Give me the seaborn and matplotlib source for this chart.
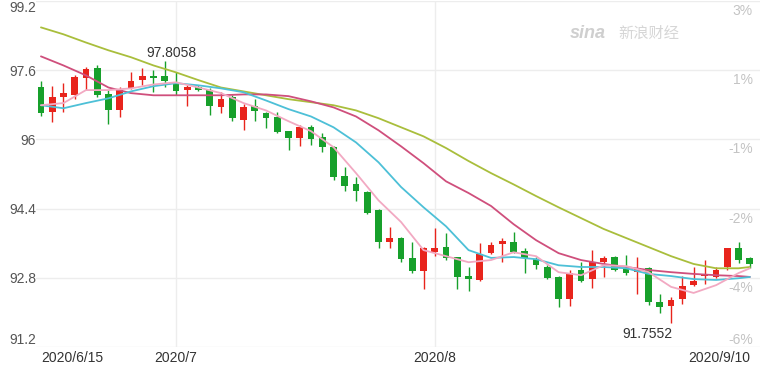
import numpy as np
import pandas as pd
import matplotlib
matplotlib.use("Agg")
import matplotlib.pyplot as plt
import matplotlib.transforms as mtransforms
import seaborn as sns

# ---------------- data ----------------
dates = pd.bdate_range("2020-06-15", "2020-09-10")

opens = [97.20, 96.63, 96.97, 97.02, 97.41, 97.64, 97.04, 96.67, 97.18, 97.37,
         97.46, 97.46, 97.30, 97.14, 97.20, 97.14, 96.74, 96.97, 96.44, 96.77,
         96.60, 96.51, 96.19, 96.03, 96.28, 96.05, 95.82, 95.15, 94.96, 94.78,
         94.36, 93.62, 93.72, 93.26, 92.96, 93.39, 93.51, 93.28, 92.84, 92.75,
         93.37, 93.58, 93.62, 93.42, 93.23, 93.05, 92.82, 92.31, 92.98, 92.77,
         93.16, 93.28, 93.00, 92.93, 93.02, 92.24, 92.15, 92.31, 92.63, 92.84,
         92.82, 93.05, 93.49, 93.26]
highs = [97.34, 97.23, 97.30, 97.50, 97.67, 97.71, 97.14, 97.20, 97.55, 97.64,
         97.60, 97.8058, 97.55, 97.25, 97.25, 97.18, 97.09, 97.02, 96.83, 96.93,
         96.63, 96.63, 96.20, 96.33, 96.33, 96.14, 95.85, 95.36, 95.13, 94.80,
         94.38, 93.97, 93.74, 93.62, 93.51, 93.95, 93.83, 93.29, 93.05, 93.60,
         93.62, 93.72, 93.86, 93.49, 93.28, 93.09, 92.84, 92.98, 93.16, 93.44,
         93.30, 93.30, 93.32, 93.28, 93.05, 92.42, 92.35, 92.84, 93.05, 93.21,
         93.05, 93.50, 93.62, 93.28]
lows = [96.55, 96.40, 96.63, 96.93, 97.14, 96.97, 96.35, 96.51, 97.16, 97.25,
        97.09, 97.20, 97.02, 96.77, 97.11, 96.56, 96.60, 96.42, 96.21, 96.42,
        96.26, 96.14, 95.75, 95.84, 95.87, 95.70, 95.06, 94.80, 94.57, 94.27,
        93.49, 93.49, 93.16, 92.91, 92.54, 93.30, 93.21, 92.54, 92.49, 92.72,
        93.35, 93.16, 93.37, 92.91, 93.00, 92.77, 92.12, 92.15, 92.70, 92.56,
        92.82, 92.96, 92.86, 92.42, 92.17, 91.98, 91.7552, 92.19, 92.61, 92.65,
        92.79, 92.98, 93.14, 93.02]
closes = [96.60, 96.98, 97.07, 97.44, 97.62, 97.02, 96.67, 97.14, 97.34, 97.46,
          97.41, 97.34, 97.11, 97.20, 97.14, 96.77, 96.93, 96.49, 96.74, 96.65,
          96.49, 96.17, 96.03, 96.28, 96.00, 95.82, 95.13, 94.92, 94.80, 94.29,
          93.62, 93.72, 93.23, 92.96, 93.49, 93.49, 93.26, 92.82, 92.77, 93.35,
          93.56, 93.64, 93.39, 93.26, 93.09, 92.79, 92.31, 92.91, 92.72, 93.16,
          93.26, 92.98, 92.91, 93.02, 92.24, 92.12, 92.29, 92.61, 92.72, 92.89,
          92.98, 93.49, 93.21, 93.12]

# moving-average lines (at every second candle + last)
ma_idx = [0, 2, 4, 6, 8, 10, 12, 14, 16, 18, 20, 22, 24, 26, 28, 30, 32, 34,
          36, 38, 40, 42, 44, 46, 48, 50, 52, 54, 56, 58, 60, 62, 63]
ma5 = [96.79, 96.84, 97.14, 97.14, 97.18, 97.27, 97.32, 97.20, 97.07, 96.84,
       96.67, 96.42, 96.19, 95.82, 95.22, 94.59, 94.09, 93.44, 93.30, 93.16,
       93.21, 93.39, 93.30, 92.93, 92.86, 93.09, 93.07, 92.93, 92.59, 92.45,
       92.63, 92.91, 93.02]
ma10 = [96.79, 96.72, 96.84, 96.95, 97.11, 97.23, 97.30, 97.25, 97.18, 97.09,
        96.90, 96.70, 96.53, 96.28, 95.93, 95.47, 94.90, 94.43, 93.99, 93.44,
        93.26, 93.28, 93.23, 93.09, 93.05, 93.05, 93.02, 92.89, 92.84, 92.77,
        92.75, 92.79, 92.82]
ma20 = [97.92, 97.71, 97.48, 97.20, 97.07, 97.02, 97.02, 97.02, 97.02, 97.04,
        97.04, 97.00, 96.88, 96.74, 96.53, 96.21, 95.84, 95.45, 95.03, 94.76,
        94.46, 94.04, 93.67, 93.37, 93.21, 93.12, 93.05, 92.98, 92.93, 92.89,
        92.86, 92.84, 92.82]
ma30 = [98.59, 98.43, 98.24, 98.06, 97.90, 97.71, 97.55, 97.37, 97.20, 97.11,
        97.02, 96.93, 96.86, 96.79, 96.67, 96.49, 96.28, 96.07, 95.80, 95.50,
        95.22, 94.96, 94.69, 94.43, 94.18, 93.93, 93.72, 93.51, 93.30, 93.12,
        93.02, 93.02, 93.05]

y_ticks = [91.2, 92.8, 94.4, 96.0, 97.6, 99.2]
y_labels = ["91.2", "92.8", "94.4", "96", "97.6", "99.2"]
pct_labels = ["-6%", "-4%", "-2%", "-1%", "1%", "3%"]
x_tick_idx = [0, 12, 35, 63]
x_tick_labels = ["2020/6/15", "2020/7", "2020/8", "2020/9/10"]

# ---------------- style ----------------
sns.set_theme(style="white")
plt.rcParams['font.family'] = ['Liberation Sans', 'Noto Sans CJK SC', 'DejaVu Sans']

RED = "#e8241c"
GREEN = "#17a02b"

fig = plt.figure(figsize=(7.6, 3.65), dpi=100)
ax = fig.add_axes([36 / 760, 18 / 365, 724 / 760, 346 / 365])

x = np.arange(len(dates))
o = np.array(opens)
c = np.array(closes)
colors = np.where(c >= o, RED, GREEN)

ax.vlines(x, lows, highs, colors=colors, lw=1.0, zorder=2)
body_bottom = np.minimum(o, c)
body_h = np.maximum(np.abs(c - o), 0.03)
ax.bar(x, body_h, bottom=body_bottom, width=0.6, color=colors, linewidth=0, zorder=3)

line_df = pd.DataFrame({"i": ma_idx, "MA5": ma5, "MA10": ma10,
                        "MA20": ma20, "MA30": ma30})
sns.lineplot(data=line_df, x="i", y="MA30", color="#a9be3c", lw=1.3, ax=ax, zorder=4)
sns.lineplot(data=line_df, x="i", y="MA20", color="#cf4f7c", lw=1.3, ax=ax, zorder=4)
sns.lineplot(data=line_df, x="i", y="MA10", color="#4dc0d7", lw=1.3, ax=ax, zorder=4)
sns.lineplot(data=line_df, x="i", y="MA5", color="#f2a9c2", lw=1.3, ax=ax, zorder=4)

ax.set_xlim(-0.44, 63.9)
ax.set_ylim(91.2, 99.2)
ax.set_xlabel("")
ax.set_ylabel("")
for s in ax.spines.values():
    s.set_visible(False)

ax.set_yticks(y_ticks)
ax.set_yticklabels(y_labels, color="#555555", fontsize=10)
ax.yaxis.grid(True, color="#ededed", lw=1.0, zorder=0)
ax.tick_params(axis="y", length=0, pad=0)
tl = ax.get_yticklabels()
tl[0].set_va("bottom")
tl[-1].set_va("top")

for xi in x_tick_idx[1:3]:
    ax.axvline(xi, color="#ededed", lw=1.0, zorder=0)

ax.set_xticks(x_tick_idx)
ax.set_xticklabels(x_tick_labels, color="#333333", fontsize=10)
ax.tick_params(axis="x", length=0, pad=3)
xl = ax.get_xticklabels()
xl[0].set_ha("left")
xl[-1].set_ha("right")

ytr = ax.get_yaxis_transform()
ytr_down = mtransforms.offset_copy(ytr, fig=fig, x=0, y=-3, units="dots")
for v, lbl in zip(y_ticks, pct_labels):
    if v == y_ticks[0]:
        ax.text(0.99, v, lbl, transform=ytr, ha="right", va="bottom",
                color="#c4c4c4", fontsize=10)
    else:
        ax.text(0.99, v, lbl, transform=ytr_down, ha="right", va="top",
                color="#c4c4c4", fontsize=10)

imax = int(np.argmax(highs))
imin = int(np.argmin(lows))
ax.annotate(f"{highs[imax]:.4f}", (imax, highs[imax]), xytext=(5, 1),
            textcoords="offset points", ha="center", va="bottom",
            color="#333333", fontsize=10, zorder=6)
ax.annotate(f"{lows[imin]:.4f}", (imin, lows[imin]), xytext=(1, -3),
            textcoords="offset points", ha="right", va="top",
            color="#333333", fontsize=10, zorder=6)

ax.text(0.762, 0.905, "sina", transform=ax.transAxes, ha="center",
        va="center", color="#cfcfcf", fontsize=13, style="italic",
        fontweight="bold", zorder=1)
ax.text(0.847, 0.905, "新浪财经", transform=ax.transAxes, ha="center",
        va="center", color="#d6d6d6", fontsize=11, zorder=1)

fig.savefig("out.png", dpi=100)
